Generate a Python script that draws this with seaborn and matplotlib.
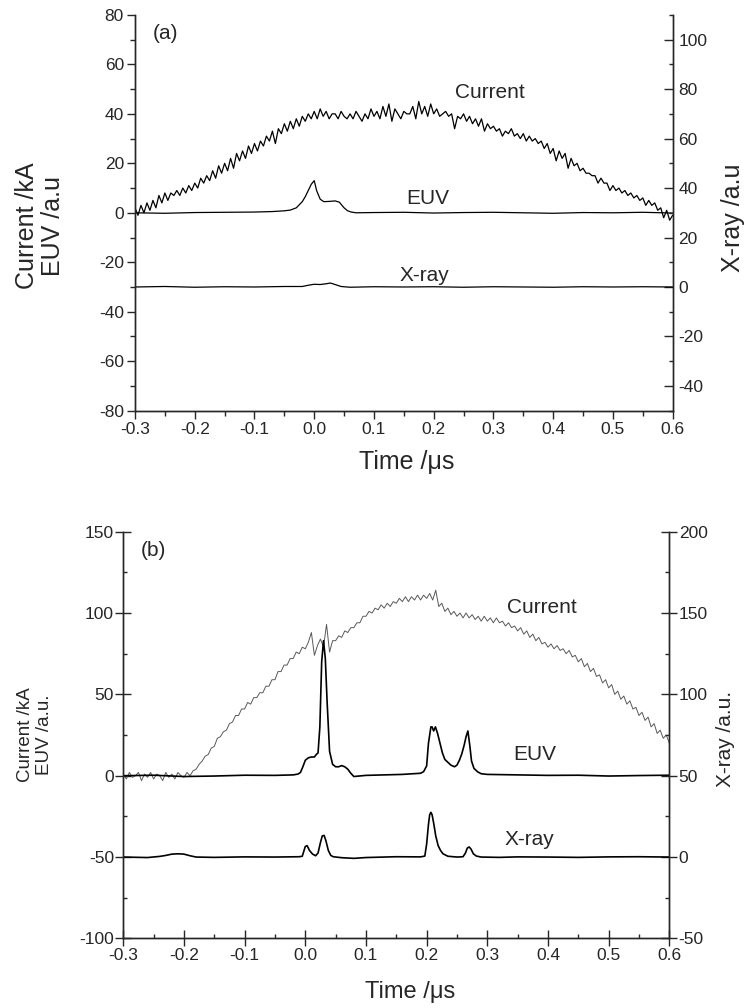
import numpy as np
import matplotlib
matplotlib.use("Agg")
import matplotlib.pyplot as plt
from matplotlib.ticker import MultipleLocator, FormatStrFormatter
import seaborn as sns

# ---------------- panel (a) ----------------
time_a = np.round(np.arange(-0.3, 0.6001, 0.005), 3)
current_a = [
    2, -1, 3, 0, 4, 1, 5, 2, 7, 4,
    8, 5, 8, 7, 9, 7, 10, 8, 11, 9,
    12, 10, 14, 12, 15, 13, 17, 14, 19, 16,
    20, 17, 22, 18, 24, 21, 25, 22, 27, 24,
    28, 25, 29, 27, 31, 29, 33, 28, 34, 32,
    36, 33, 37, 34, 38, 35, 39, 37, 40, 38,
    41, 38, 42, 39, 41, 38, 40, 40, 38, 41,
    39, 38, 40, 38, 41, 39, 37, 40, 38, 42,
    39, 41, 38, 43, 39, 44, 37, 42, 40, 38,
    41, 40, 40, 43, 38, 45, 40, 43, 39, 44,
    40, 42, 39, 40, 41, 39, 40, 34, 39, 38,
    40, 37, 39, 36, 38, 35, 38, 33, 36, 34,
    35, 33, 34, 31, 33, 32, 34, 31, 32, 30,
    32, 29, 31, 29, 30, 28, 29, 26, 28, 24,
    26, 21, 25, 22, 24, 18, 22, 19, 20, 17,
    18, 16, 16, 15, 15, 12, 14, 12, 12, 9,
    11, 9, 10, 8, 9, 7, 8, 6, 7, 5,
    6, 3, 5, 3, 4, 1, 2, -2, 1, -3,
    -1,
]

euv_a_t = [-0.3, -0.25, -0.2, -0.15, -0.1, -0.07, -0.05, -0.04, -0.03, -0.02,
           -0.015, -0.01, -0.005, 0.0, 0.004, 0.01, 0.016, 0.025, 0.035, 0.042,
           0.05, 0.056, 0.062, 0.07, 0.1, 0.15, 0.2, 0.25, 0.3, 0.35,
           0.4, 0.45, 0.5, 0.55, 0.6]
euv_a = [0, -0.2, 0.1, 0.2, 0.3, 0.5, 0.8, 1.1, 2.0, 4.5,
         6.5, 9, 11.5, 13, 9, 5.5, 4.5, 4.6, 4.8, 4.3,
         2, 0.8, 0.3, 0, 0.1, 0.2, -0.1, 0.1, 0.2, 0,
         -0.2, 0.1, 0, 0.2, -0.1]

xray_a_t = [-0.3, -0.25, -0.2, -0.15, -0.1, -0.05, -0.02, -0.01, 0.0, 0.01,
            0.02, 0.027, 0.035, 0.045, 0.06, 0.1, 0.15, 0.2, 0.25, 0.3,
            0.35, 0.4, 0.45, 0.5, 0.55, 0.6]
xray_a = [0, 0.2, -0.1, 0.1, 0, 0.2, 0.2, 0.7, 1.1, 1.0,
          1.3, 1.6, 1.0, 0.2, -0.1, 0.1, 0, 0.1, -0.1, 0.1,
          0, -0.1, 0.1, 0, 0.1, 0]

# ---------------- panel (b) ----------------
time_b = np.round(np.arange(-0.3, 0.6001, 0.005), 3)
current_b = [
    1, -2, 2, -1, 0, 2, -3, 1, -1, 2,
    -2, 1, 0, -3, 2, -1, 1, -2, 2, 0,
    -1, 2, 0, 3, 4, 7, 9, 12, 13, 17,
    18, 23, 24, 27, 28, 32, 33, 37, 37, 41,
    41, 45, 44, 48, 48, 51, 51, 55, 55, 59,
    59, 64, 64, 68, 68, 72, 72, 76, 75, 79,
    78, 82, 88, 74, 80, 84, 79, 93, 76, 83,
    83, 86, 85, 89, 88, 91, 91, 94, 94, 98,
    98, 101, 100, 103, 102, 105, 103, 106, 104, 107,
    106, 109, 107, 110, 107, 110, 108, 111, 108, 111,
    109, 112, 108, 114, 104, 106, 101, 103, 99, 101,
    98, 100, 97, 100, 97, 99, 96, 98, 95, 98,
    95, 97, 94, 97, 94, 95, 92, 94, 91, 92,
    89, 91, 87, 89, 85, 87, 83, 85, 81, 82,
    79, 81, 78, 80, 77, 78, 75, 77, 73, 74,
    70, 72, 67, 69, 64, 66, 61, 62, 57, 59,
    54, 56, 50, 52, 47, 49, 44, 46, 41, 42,
    37, 39, 34, 36, 30, 32, 26, 28, 23, 25,
    20,
]

euv_b_t = [-0.3, -0.25, -0.2, -0.15, -0.1, -0.05, -0.02, -0.012, -0.008, -0.004,
           0.0, 0.005, 0.01, 0.015, 0.018, 0.021, 0.024, 0.027, 0.03, 0.033,
           0.036, 0.04, 0.045, 0.05, 0.055, 0.06, 0.065, 0.07, 0.075, 0.08,
           0.1, 0.13, 0.16, 0.19, 0.195, 0.2, 0.203, 0.207, 0.209, 0.2115,
           0.2145, 0.218, 0.222, 0.226, 0.23, 0.24, 0.246, 0.25, 0.254, 0.258,
           0.262, 0.265, 0.268, 0.271, 0.274, 0.278, 0.284, 0.29, 0.3, 0.35,
           0.4, 0.45, 0.5, 0.55, 0.6]
euv_b = [0, 0.3, -0.5, -0.2, 0.3, 0.2, 0.5, 1, 2, 5.5,
         9.5, 11, 11.5, 11.5, 13, 14, 30, 70, 83, 72,
         45, 15, 7, 5.5, 5.5, 6.2, 5.5, 4, 1.5, -0.5,
         0.2, 0.5, 0.8, 1.5, 2.5, 6, 20, 30, 30, 27.5,
         30, 26, 20, 14, 10, 6.5, 5.5, 6.5, 9.5, 13.5,
         19, 24, 27.5, 19, 9, 4.5, 2.4, 1.2, 0.8, 0.5,
         0.2, 0.3, -0.2, 0.1, 0.3]

xray_b_t = [-0.3, -0.26, -0.24, -0.23, -0.22, -0.21, -0.2, -0.19, -0.18, -0.15,
            -0.1, -0.05, -0.01, -0.005, 0.0, 0.003, 0.007, 0.012, 0.017, 0.021,
            0.025, 0.028, 0.031, 0.034, 0.038, 0.042, 0.046, 0.06, 0.08, 0.1,
            0.15, 0.19, 0.197, 0.2, 0.203, 0.205, 0.207, 0.209, 0.212, 0.215,
            0.219, 0.223, 0.227, 0.235, 0.25, 0.26, 0.264, 0.267, 0.27, 0.273,
            0.277, 0.282, 0.29, 0.32, 0.35, 0.4, 0.45, 0.5, 0.55, 0.6]
xray_b = [0, -0.3, 0.4, 1.0, 1.8, 2.0, 1.8, 0.8, 0, -0.2,
          0.1, 0, 0.2, 0.5, 6.5, 7.0, 4.0, 1.8, 0.8, 2.5,
          9, 13, 13.3, 10, 4, 1, 0.2, -0.4, -0.8, -0.3,
          0.2, 0.1, 0.6, 8, 20, 26, 27.5, 26, 20, 13,
          7, 4, 2, 0.5, 0, 0.2, 2.5, 5.5, 6.2, 5,
          2, 0.6, 0, -0.2, 0.1, 0, -0.2, 0.1, 0.2, 0]

time_ticks = [-0.3, -0.2, -0.1, 0.0, 0.1, 0.2, 0.3, 0.4, 0.5, 0.6]

sns.set_style("ticks")
plt.rcParams['font.family'] = ['Liberation Sans', 'DejaVu Sans']
plt.rcParams['axes.unicode_minus'] = False
plt.rcParams['axes.linewidth'] = 1.0

fig = plt.figure(figsize=(7.45, 10.08), dpi=100)

# ---- panel (a) ----
ax1 = fig.add_axes([0.1812, 0.5926, 0.7217, 0.3926])
ax1r = ax1.twinx()
sns.lineplot(x=time_a, y=current_a, ax=ax1, color='black', linewidth=0.9, estimator=None)
sns.lineplot(x=euv_a_t, y=euv_a, ax=ax1, color='black', linewidth=0.9, estimator=None)
sns.lineplot(x=xray_a_t, y=xray_a, ax=ax1r, color='black', linewidth=0.9, estimator=None)

ax1.set_xlim(-0.3, 0.6)
ax1.set_ylim(-80, 80)
ax1.set_xticks(time_ticks)
ax1.xaxis.set_minor_locator(MultipleLocator(0.05))
ax1.xaxis.set_major_formatter(FormatStrFormatter('%.1f'))
ax1.yaxis.set_major_locator(MultipleLocator(20))
ax1.yaxis.set_minor_locator(MultipleLocator(10))
ax1r.set_yticks([-40, -20, 0, 20, 40, 60, 80, 100])
ax1r.yaxis.set_minor_locator(MultipleLocator(10))
ax1r.set_ylim(-50, 110)

ax1.tick_params(axis='both', which='major', direction='out', length=6, width=1, labelsize=12.5, pad=2)
ax1.tick_params(axis='both', which='minor', direction='out', length=3.5, width=1)
ax1r.tick_params(axis='y', which='major', direction='in', length=6.5, width=1, labelsize=12.5, pad=4)
ax1r.tick_params(axis='y', which='minor', direction='in', length=3, width=1)
for a in (ax1, ax1r):
    a.spines['top'].set_visible(False)

ax1.set_ylabel("Current /kA\nEUV /a.u", fontsize=18, va='center', linespacing=1.1)
ax1.yaxis.set_label_coords(-0.177, 0.467)
ax1r.set_ylabel("X-ray /a.u", fontsize=18, va='center', rotation=90)
ax1r.yaxis.set_label_coords(1.112, 0.487)
ax1.set_xlabel("Time /μs", fontsize=18, va='center')
ax1.xaxis.set_label_coords(0.506, -0.13)

ax1.text(-0.249, 72.5, "(a)", fontsize=15, ha='center', va='center')
ax1.text(0.294, 48.7, "Current", fontsize=15, ha='center', va='center')
ax1.text(0.19, 5.8, "EUV", fontsize=15, ha='center', va='center')
ax1.text(0.185, -25.3, "X-ray", fontsize=15, ha='center', va='center')

# ---- panel (b) ----
ax2 = fig.add_axes([0.1655, 0.06905, 0.7329, 0.4035])
ax2r = ax2.twinx()
sns.lineplot(x=time_b, y=current_b, ax=ax2, color='0.35', linewidth=0.7, estimator=None)
sns.lineplot(x=euv_b_t, y=euv_b, ax=ax2, color='black', linewidth=1.2, estimator=None)
sns.lineplot(x=xray_b_t, y=xray_b, ax=ax2r, color='black', linewidth=1.2, estimator=None)

ax2.set_xlim(-0.3, 0.6)
ax2.set_ylim(-100, 150)
ax2r.set_ylim(-50, 200)
ax2.set_xticks(time_ticks)
ax2.xaxis.set_minor_locator(MultipleLocator(0.05))
ax2.xaxis.set_major_formatter(FormatStrFormatter('%.1f'))
ax2.yaxis.set_major_locator(MultipleLocator(50))
ax2.yaxis.set_minor_locator(MultipleLocator(25))
ax2r.yaxis.set_major_locator(MultipleLocator(50))
ax2r.yaxis.set_minor_locator(MultipleLocator(25))

ax2.tick_params(axis='both', which='major', direction='inout', length=11.5, width=1, labelsize=12.5, pad=1)
ax2.tick_params(axis='both', which='minor', direction='in', length=3, width=1)
ax2r.tick_params(axis='y', which='major', direction='inout', length=11.5, width=1, labelsize=12.5, pad=1)
ax2r.tick_params(axis='y', which='minor', direction='in', length=3, width=1)
for a in (ax2, ax2r):
    a.spines['top'].set_visible(False)

ax2.set_ylabel("Current /kA\nEUV /a.u.", fontsize=13.5, va='center', linespacing=1.15)
ax2.yaxis.set_label_coords(-0.162, 0.5)
ax2r.set_ylabel("X-ray /a.u.", fontsize=15, va='center', rotation=90)
ax2r.yaxis.set_label_coords(1.102, 0.49)
ax2.set_xlabel("Time /μs", fontsize=17, va='center')
ax2.xaxis.set_label_coords(0.525, -0.132)

ax2.text(-0.25, 138.7, "(b)", fontsize=15, ha='center', va='center')
ax2.text(0.39, 103.4, "Current", fontsize=15, ha='center', va='center')
ax2.text(0.378, 13, "EUV", fontsize=15, ha='center', va='center')
ax2.text(0.369, -39.5, "X-ray", fontsize=15, ha='center', va='center')

fig.savefig("out.png", dpi=100)
